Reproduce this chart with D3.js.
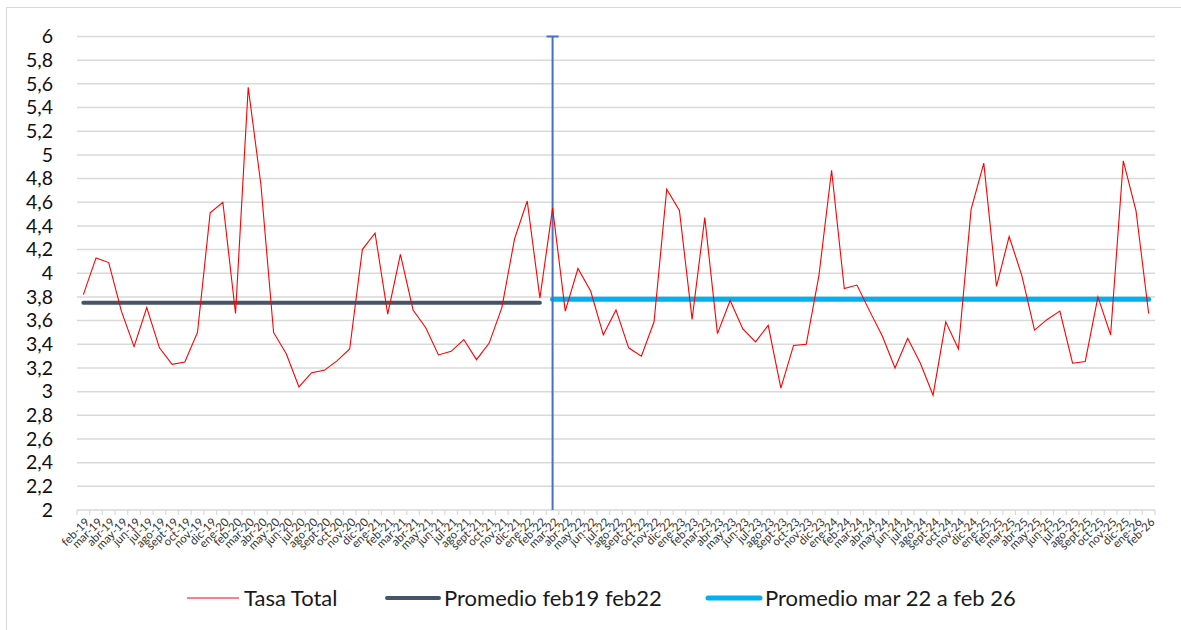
<!DOCTYPE html>
<html>
<head>
<meta charset="utf-8">
<script src="https://cdn.jsdelivr.net/npm/d3@7"></script>
<style>
  html, body { margin: 0; padding: 0; background: #fff; }
  svg { display: block; font-family: Lato, "Open Sans", sans-serif; }
</style>
</head>
<body>
<svg id="chart" width="1181" height="630"></svg>
<script>
// ---- data ----
const months = [
  "feb-19","mar-19","abr-19","may-19","jun-19","jul-19","ago-19","sept-19","oct-19","nov-19","dic-19",
  "ene-20","feb-20","mar-20","abr-20","may-20","jun-20","jul-20","ago-20","sept-20","oct-20","nov-20","dic-20",
  "ene-21","feb-21","mar-21","abr-21","may-21","jun-21","jul-21","ago-21","sept-21","oct-21","nov-21","dic-21",
  "ene-22","feb-22","mar-22","abr-22","may-22","jun-22","jul-22","ago-22","sept-22","oct-22","nov-22","dic-22",
  "ene-23","feb-23","mar-23","abr-23","may-23","jun-23","jul-23","ago-23","sept-23","oct-23","nov-23","dic-23",
  "ene-24","feb-24","mar-24","abr-24","may-24","jun-24","jul-24","ago-24","sept-24","oct-24","nov-24","dic-24",
  "ene-25","feb-25","mar-25","abr-25","may-25","jun-25","jul-25","ago-25","sept-25","oct-25","nov-25","dic-25",
  "ene-26","feb-26"
];
const tasaTotal = [
  3.82, 4.13, 4.09, 3.68, 3.38, 3.71, 3.37, 3.23, 3.25, 3.50, 4.51,
  4.60, 3.66, 5.57, 4.75, 3.50, 3.32, 3.04, 3.16, 3.18, 3.26, 3.36, 4.20,
  4.34, 3.655, 4.16, 3.69, 3.54, 3.31, 3.34, 3.44, 3.27, 3.41, 3.71, 4.29,
  4.61, 3.79, 4.55, 3.68, 4.04, 3.85, 3.48, 3.69, 3.37, 3.30, 3.59, 4.71,
  4.53, 3.61, 4.47, 3.49, 3.77, 3.53, 3.42, 3.56, 3.03, 3.39, 3.40, 3.98,
  4.87, 3.87, 3.90, 3.68, 3.47, 3.20, 3.45, 3.24, 2.97, 3.59, 3.36, 4.54,
  4.93, 3.89, 4.31, 3.98, 3.52, 3.61, 3.68, 3.24, 3.255, 3.80, 3.48, 4.95,
  4.53, 3.66
];
const promedio1Value = 3.75;              // Promedio feb19 feb22
const promedio1Range = ["feb-19", "feb-22"];
const promedio2Value = 3.78;              // Promedio mar 22 a feb 26
const promedio2Range = ["mar-22", "feb-26"];
const markerMonth = "mar-22";
const yTicks = [2, 2.2, 2.4, 2.6, 2.8, 3, 3.2, 3.4, 3.6, 3.8, 4, 4.2, 4.4, 4.6, 4.8, 5, 5.2, 5.4, 5.6, 5.8, 6];
const seriesNames = ["Tasa Total", "Promedio feb19 feb22", "Promedio mar 22 a feb 26"];

// ---- layout ----
const svg = d3.select("#chart");
const W = 1181, H = 630;
const plot = { left: 77, right: 1155, top: 36.5, bottom: 510 };
const colors = { tasa: "#FF0000", prom1: "#44546A", prom2: "#00B0F0", marker: "#4472C4", grid: "#D9D9D9" };

// chart border
svg.append("rect")
  .attr("x", 6.5).attr("y", 7.5).attr("width", W - 6.5 + 5).attr("height", H)
  .attr("fill", "none").attr("stroke", colors.grid).attr("stroke-width", 1);

const x = d3.scaleBand().domain(months).range([plot.left, plot.right]).padding(0);
const xc = m => x(m) + x.bandwidth() / 2;
const y = d3.scaleLinear().domain([2, 6]).range([plot.bottom, plot.top]);

// gridlines
svg.append("g").selectAll("line").data(yTicks.filter(t => t > 2)).join("line")
  .attr("x1", plot.left).attr("x2", plot.right)
  .attr("y1", d => y(d)).attr("y2", d => y(d))
  .attr("stroke", colors.grid).attr("stroke-width", 1.5);

// y axis labels
const fmt = d => String(+d.toFixed(1)).replace(".", ",");
svg.append("g").selectAll("text").data(yTicks).join("text")
  .attr("x", 53).attr("y", d => y(d)).attr("dy", "0.35em")
  .attr("text-anchor", "end").attr("font-size", 19.5).attr("fill", "#111")
  .text(fmt);

// x axis (line + ticks between categories)
const xAxisG = svg.append("g").attr("transform", `translate(0,${plot.bottom})`);
xAxisG.append("line").attr("x1", plot.left).attr("x2", plot.right)
  .attr("stroke", colors.grid).attr("stroke-width", 1.5);
const boundaries = months.map(m => x(m)).concat([plot.right]);
xAxisG.selectAll("line.tick").data(boundaries).join("line").attr("class", "tick")
  .attr("x1", d => d).attr("x2", d => d).attr("y1", 0).attr("y2", 5)
  .attr("stroke", colors.grid).attr("stroke-width", 1.2);
xAxisG.selectAll("text").data(months).join("text")
  .attr("transform", d => `translate(${xc(d) + 4},${10}) rotate(-45)`)
  .attr("text-anchor", "end").attr("dy", "0.35em")
  .attr("font-size", 11.5).attr("fill", "#333")
  .text(d => d);

// average lines
const rangeData = (r, v) => months.slice(months.indexOf(r[0]), months.indexOf(r[1]) + 1).map(m => ({ m, v }));
const avgLine = d3.line().x(d => xc(d.m)).y(d => y(d.v));
svg.append("path").datum(rangeData(promedio1Range, promedio1Value))
  .attr("d", avgLine).attr("fill", "none").attr("stroke", colors.prom1)
  .attr("stroke-width", 4).attr("stroke-linecap", "round");
svg.append("path").datum(rangeData(promedio2Range, promedio2Value))
  .attr("d", avgLine).attr("fill", "none").attr("stroke", colors.prom2)
  .attr("stroke-width", 5).attr("stroke-linecap", "round");

// vertical marker line at mar-22 (with cap at top)
const mx = xc(markerMonth);
svg.append("line").attr("x1", mx).attr("x2", mx).attr("y1", y(6)).attr("y2", y(2))
  .attr("stroke", colors.marker).attr("stroke-width", 2);
svg.append("line").attr("x1", mx - 6).attr("x2", mx + 6).attr("y1", y(6)).attr("y2", y(6))
  .attr("stroke", colors.marker).attr("stroke-width", 2);

// main series
const line = d3.line().x((d, i) => xc(months[i])).y(d => y(d));
svg.append("path").datum(tasaTotal).attr("d", line)
  .attr("fill", "none").attr("stroke", colors.tasa).attr("stroke-width", 1.1)
  .attr("stroke-linejoin", "miter");

// legend
const legendItems = [
  { name: seriesNames[0], color: colors.tasa, w: 1, x1: 187 },
  { name: seriesNames[1], color: colors.prom1, w: 4, x1: 387 },
  { name: seriesNames[2], color: colors.prom2, w: 5, x1: 708 }
];
const lg = svg.append("g");
legendItems.forEach(it => {
  lg.append("line").attr("x1", it.x1).attr("x2", it.x1 + 52).attr("y1", 598).attr("y2", 598)
    .attr("stroke", it.color).attr("stroke-width", it.w).attr("stroke-linecap", it.w > 1 ? "round" : "butt");
  lg.append("text").attr("x", it.x1 + 57).attr("y", 598).attr("dy", "0.35em")
    .attr("font-size", 22).attr("fill", "#1a1a1a").text(it.name);
});
</script>
</body>
</html>
